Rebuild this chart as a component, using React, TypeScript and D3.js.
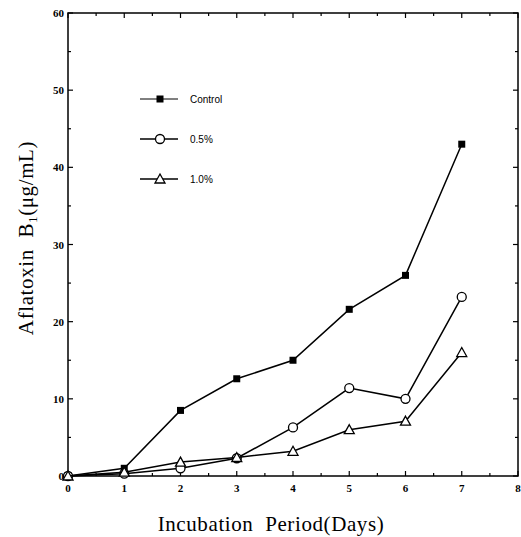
import React from "react";
import * as d3 from "d3";

const days = [0, 1, 2, 3, 4, 5, 6, 7];
const control = [0, 1.0, 8.5, 12.6, 15.0, 21.6, 26.0, 43.0];
const half = [0, 0.3, 1.0, 2.3, 6.3, 11.4, 10.0, 23.2];
const one = [0, 0.5, 1.8, 2.4, 3.2, 6.0, 7.1, 16.0];
const xTicks = [0, 1, 2, 3, 4, 5, 6, 7, 8];
const yTicks = [0, 10, 20, 30, 40, 50, 60];
const legendLabels = ["Control", "0.5%", "1.0%"];

const W = 521, H = 537;
const L = 68, R = 518, T = 13, B = 476;

export default function App() {
  const x = d3.scaleLinear().domain([0, 8]).range([L, R]);
  const y = d3.scaleLinear().domain([0, 60]).range([B, T]);
  const line = d3.line<number>().x((_, i) => x(days[i])).y((v) => y(v));
  const xMinor = d3.range(0, 8.01, 0.5);
  const yMinor = d3.range(0, 60.01, 5);
  const serif = "'Liberation Serif', 'Times New Roman', serif";
  const sans = "'Liberation Sans', Arial, sans-serif";

  const marker = (kind: number, cx: number, cy: number, key: string) => {
    if (kind === 0) return <rect key={key} x={cx - 3.5} y={cy - 3.5} width={7} height={7} fill="#000" />;
    if (kind === 1) return <circle key={key} cx={cx} cy={cy} r={4.5} fill="#fff" stroke="#000" strokeWidth={1.3} />;
    const s = 5;
    return (
      <path key={key} d={`M${cx},${cy - s} L${cx + s},${cy + s * 0.8} L${cx - s},${cy + s * 0.8} Z`} fill="#fff" stroke="#000" strokeWidth={1.3} />
    );
  };

  const series = [control, half, one];
  const legendY = [99, 139, 179];

  return (
    <svg width={W} height={H} style={{ position: "absolute", left: 0, top: 0, background: "#fff" }}>
      <rect x={0} y={0} width={W} height={H} fill="#fff" />
      <rect x={L} y={T} width={R - L} height={B - T} fill="none" stroke="#000" strokeWidth={1.5} />
      {xMinor.map((v) => {
        const major = Number.isInteger(v);
        const len = major ? 5 : 3;
        return (
          <g key={"xt" + v}>
            <line x1={x(v)} x2={x(v)} y1={B} y2={B - len} stroke="#000" strokeWidth={1.2} />
            <line x1={x(v)} x2={x(v)} y1={T} y2={T + len} stroke="#000" strokeWidth={1.2} />
          </g>
        );
      })}
      {yMinor.map((v) => {
        const major = v % 10 === 0;
        const len = major ? 5 : 3;
        return (
          <g key={"yt" + v}>
            <line x1={L} x2={L + len} y1={y(v)} y2={y(v)} stroke="#000" strokeWidth={1.2} />
            <line x1={R} x2={R - len} y1={y(v)} y2={y(v)} stroke="#000" strokeWidth={1.2} />
          </g>
        );
      })}
      {xTicks.map((v) => (
        <text key={"xl" + v} x={x(v)} y={B + 16} textAnchor="middle" fontFamily={serif} fontSize={11} fontWeight="bold">
          {v}
        </text>
      ))}
      {yTicks.map((v) => (
        <text key={"yl" + v} x={L - 4} y={y(v) + 4} textAnchor="end" fontFamily={serif} fontSize={11} fontWeight="bold">
          {v}
        </text>
      ))}
      {series.map((s, k) => (
        <g key={"s" + k}>
          <path d={line(s) || ""} fill="none" stroke="#000" strokeWidth={1.5} />
          {s.map((v, i) => marker(k, x(days[i]), y(v), `m${k}-${i}`))}
        </g>
      ))}
      {legendLabels.map((lab, k) => (
        <g key={"lg" + k}>
          <line x1={140} x2={178} y1={legendY[k]} y2={legendY[k]} stroke="#000" strokeWidth={k === 0 ? 1 : 1.5} />
          {marker(k, 160, legendY[k], "lm" + k)}
          <text x={190} y={legendY[k] + 4} fontFamily={sans} fontSize={10}>
            {lab}
          </text>
        </g>
      ))}
      <text x={271} y={531} textAnchor="middle" fontFamily={serif} fontSize={21} letterSpacing={0.6} xmlSpace="preserve" style={{ whiteSpace: "pre" }}>
        {"Incubation  Period(Days)"}
      </text>
      <text transform="translate(33,238) rotate(-90)" textAnchor="middle" fontFamily={serif} fontSize={21} letterSpacing={0.6} xmlSpace="preserve" style={{ whiteSpace: "pre" }}>
        {"Aflatoxin  B"}
        <tspan fontSize={13} dy={4}>1</tspan>
        <tspan dy={-4}>(μg/mL)</tspan>
      </text>
    </svg>
  );
}
